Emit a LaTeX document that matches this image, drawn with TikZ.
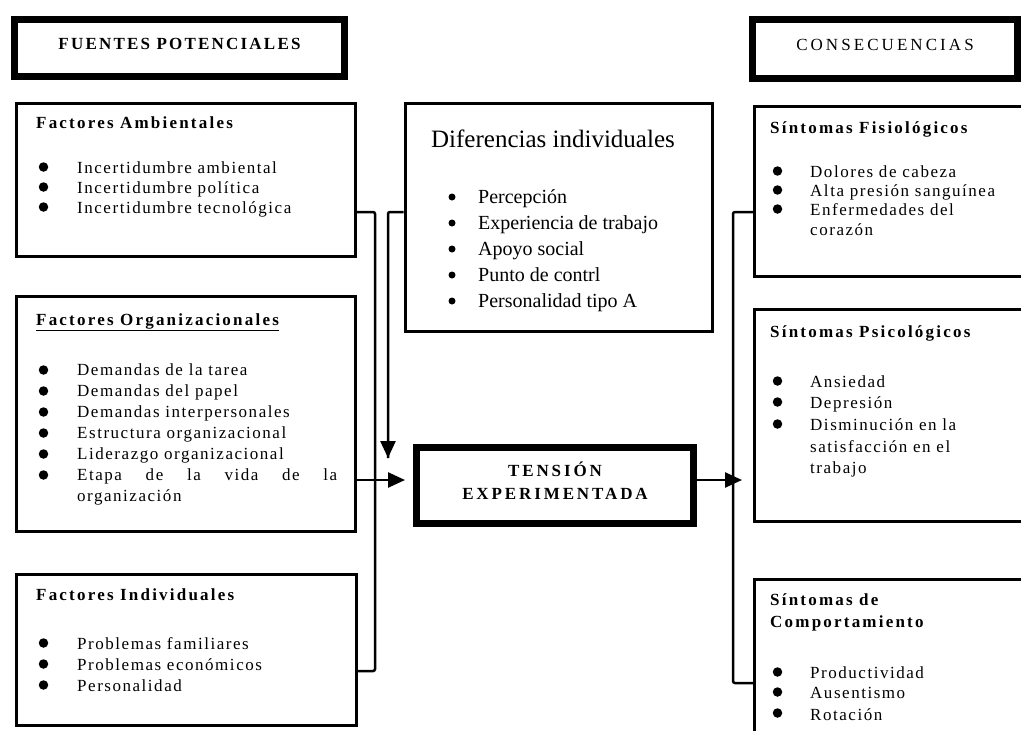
\documentclass[tikz,border=0pt]{standalone}
\usepackage{fontspec}
\setmainfont{Liberation Serif}
\newfontfamily\spf{Liberation Serif}[LetterSpace=9]
\newfontfamily\hdf{Liberation Serif}[LetterSpace=13]
\newfontfamily\capf{Liberation Serif}[LetterSpace=15]
\usetikzlibrary{arrows.meta}
\begin{document}
\begin{tikzpicture}[x=1pt,y=-1pt,
  box/.style={draw, line width=3pt, anchor=north west, inner sep=0pt},
  thickbox/.style={draw, line width=7pt, anchor=north west, inner sep=0pt},
  hd/.style={anchor=base west, inner sep=0pt, font=\hdf\bfseries\fontsize{17}{20}\selectfont},
  it/.style={anchor=base west, inner sep=0pt, font=\spf\fontsize{17}{20}\selectfont},
  bul/.style={circle, fill, inner sep=0pt, minimum size=9.5pt},
  dit/.style={anchor=base west, inner sep=0pt, font=\fontsize{20}{24}\selectfont},
  dbul/.style={circle, fill, inner sep=0pt, minimum size=7pt},
  conn/.style={line width=2.5pt, rounded corners=2pt},
  arr/.style={line width=2.5pt, -{Triangle[length=17pt,width=15pt]}}
]
\useasboundingbox (0,0) rectangle (1021,731);
\clip (0,0) rectangle (1021,731);
\fill[white] (0,0) rectangle (1021,731);

% header boxes
\node[thickbox, minimum width=330pt, minimum height=57pt, text height=12pt, text depth=10pt,
  font=\capf\bfseries\fontsize{17}{20}\selectfont\addfontfeature{LetterSpace=13}] (fuen) at (11,16) {FUENTES POTENCIALES};
\node[thickbox, minimum width=265pt, minimum height=59pt, text height=12pt, text depth=10pt,
  font=\capf\fontsize{17}{20}\selectfont\addfontfeature{LetterSpace=18}] (conse) at (749,16) {CONSECUENCIAS};

% left boxes
\node[box, minimum width=339pt, minimum height=153pt] (amb) at (15,102) {};
\node[box, minimum width=339pt, minimum height=235pt] (org) at (15,295) {};
\node[box, minimum width=340pt, minimum height=151pt] (ind) at (15,573) {};
% middle
\node[box, minimum width=307pt, minimum height=228pt] (dif) at (403.5,101.5) {};
\node[thickbox, minimum width=277pt, minimum height=76pt, align=center, text height=30pt, text depth=3pt,
  font=\capf\bfseries\fontsize{17}{23}\selectfont\addfontfeature{LetterSpace=17}] (ten) at (413,444) {TENSIÓN\\EXPERIMENTADA};
% right
\node[box, minimum width=274pt, minimum height=170pt] (fis) at (753,105) {};
\node[box, minimum width=274pt, minimum height=212pt] (psi) at (753,308) {};
\node[box, minimum width=274pt, minimum height=179pt] (com) at (753,578) {};

% Ambientales
\node[hd] (amb-h) at (36,128) {Factores Ambientales};
\node[bul] (amb-b1) at (43.5,167) {};
\node[bul] (amb-b2) at (43.5,187) {};
\node[bul] (amb-b3) at (43.5,207) {};
\node[it] (amb-1) at (77,173) {Incertidumbre ambiental};
\node[it] (amb-2) at (77,193) {Incertidumbre política};
\node[it] (amb-3) at (77,213) {Incertidumbre tecnológica};

% Organizacionales
\node[hd] (org-h) at (36,325) {\underline{Factores Organizacionales}};
\foreach \yy [count=\i] in {370,391,412,433,454,475}
  \node[bul] (org-b\i) at (43.5,\yy) {};
\node[it] (org-1) at (77,375) {Demandas de la tarea};
\node[it] (org-2) at (77,396) {Demandas del papel};
\node[it] (org-3) at (77,417) {Demandas interpersonales};
\node[it] (org-4) at (77,438) {Estructura organizacional};
\node[it] (org-5) at (77,459) {Liderazgo organizacional};
\node[it] (org-6) at (77,480) {\hbox to 260pt{Etapa\hfill de\hfill la\hfill vida\hfill de\hfill la}};
\node[it] (org-7) at (77,501) {organización};

% Individuales
\node[hd] (ind-h) at (36,600) {Factores Individuales};
\node[bul] (ind-b1) at (43.5,643) {};
\node[bul] (ind-b2) at (43.5,664) {};
\node[bul] (ind-b3) at (43.5,685) {};
\node[it] (ind-1) at (77,649) {Problemas familiares};
\node[it] (ind-2) at (77,670) {Problemas económicos};
\node[it] (ind-3) at (77,691) {Personalidad};

% Diferencias
\node[anchor=base, inner sep=0pt, font=\fontsize{25}{30}\selectfont] (dif-h) at (553,147) {Diferencias individuales};
\foreach \yy [count=\i] in {197,223,249,275,301}
  \node[dbul] (dif-b\i) at (452,\yy) {};
\node[dit] (dif-1) at (478,203) {Percepción};
\node[dit] (dif-2) at (478,229) {Experiencia de trabajo};
\node[dit] (dif-3) at (478,255) {Apoyo social};
\node[dit] (dif-4) at (478,281) {Punto de contrl};
\node[dit] (dif-5) at (478,307) {Personalidad tipo A};

% Fisiologicos
\node[hd] (fis-h) at (770,133) {Síntomas Fisiológicos};
\node[bul] (fis-b1) at (777.5,171) {};
\node[bul] (fis-b2) at (777.5,190) {};
\node[bul] (fis-b3) at (777.5,209) {};
\node[it] (fis-1) at (810,177) {Dolores de cabeza};
\node[it] (fis-2) at (810,196) {Alta presión sanguínea};
\node[it] (fis-3) at (810,215) {Enfermedades del};
\node[it] (fis-4) at (810,235) {corazón};

% Psicologicos
\node[hd] (psi-h) at (770,337) {Síntomas Psicológicos};
\node[bul] (psi-b1) at (777.5,381) {};
\node[bul] (psi-b2) at (777.5,402) {};
\node[bul] (psi-b3) at (777.5,424) {};
\node[it] (psi-1) at (810,387) {Ansiedad};
\node[it] (psi-2) at (810,408) {Depresión};
\node[it] (psi-3) at (810,430) {Disminución en la};
\node[it] (psi-4) at (810,452) {satisfacción en el};
\node[it] (psi-5) at (810,473) {trabajo};

% Comportamiento
\node[hd] (com-h1) at (770,605) {Síntomas de};
\node[hd] (com-h2) at (770,627) {Comportamiento};
\node[bul] (com-b1) at (777.5,672) {};
\node[bul] (com-b2) at (777.5,692) {};
\node[bul] (com-b3) at (777.5,713) {};
\node[it] (com-1) at (810,678) {Productividad};
\node[it] (com-2) at (810,698) {Ausentismo};
\node[it] (com-3) at (810,720) {Rotación};

% connectors
\coordinate (la) at (375,212);
\coordinate (lb) at (375,671);
\coordinate (da) at (388,212);
\coordinate (tinT) at (388,458);
\coordinate (tinL) at (405,480);
\coordinate (tout) at (742,480);
\coordinate (ra) at (733,212);
\coordinate (rb) at (733,683);

\draw[conn] (la -| amb.east) -- (la) -- (lb) -- (lb -| ind.east);
\draw[arr] (org.east |- tinL) -- (tinL);
\draw[conn] (da -| dif.west) -- (da) -- (da |- tinT);
\draw[arr] (da |- 0,440) -- (tinT);
\draw[arr] (ten.east |- tout) -- (tout);
\draw[conn] (ra -| fis.west) -- (ra) -- (rb) -- (rb -| com.west);
\end{tikzpicture}
\end{document}
